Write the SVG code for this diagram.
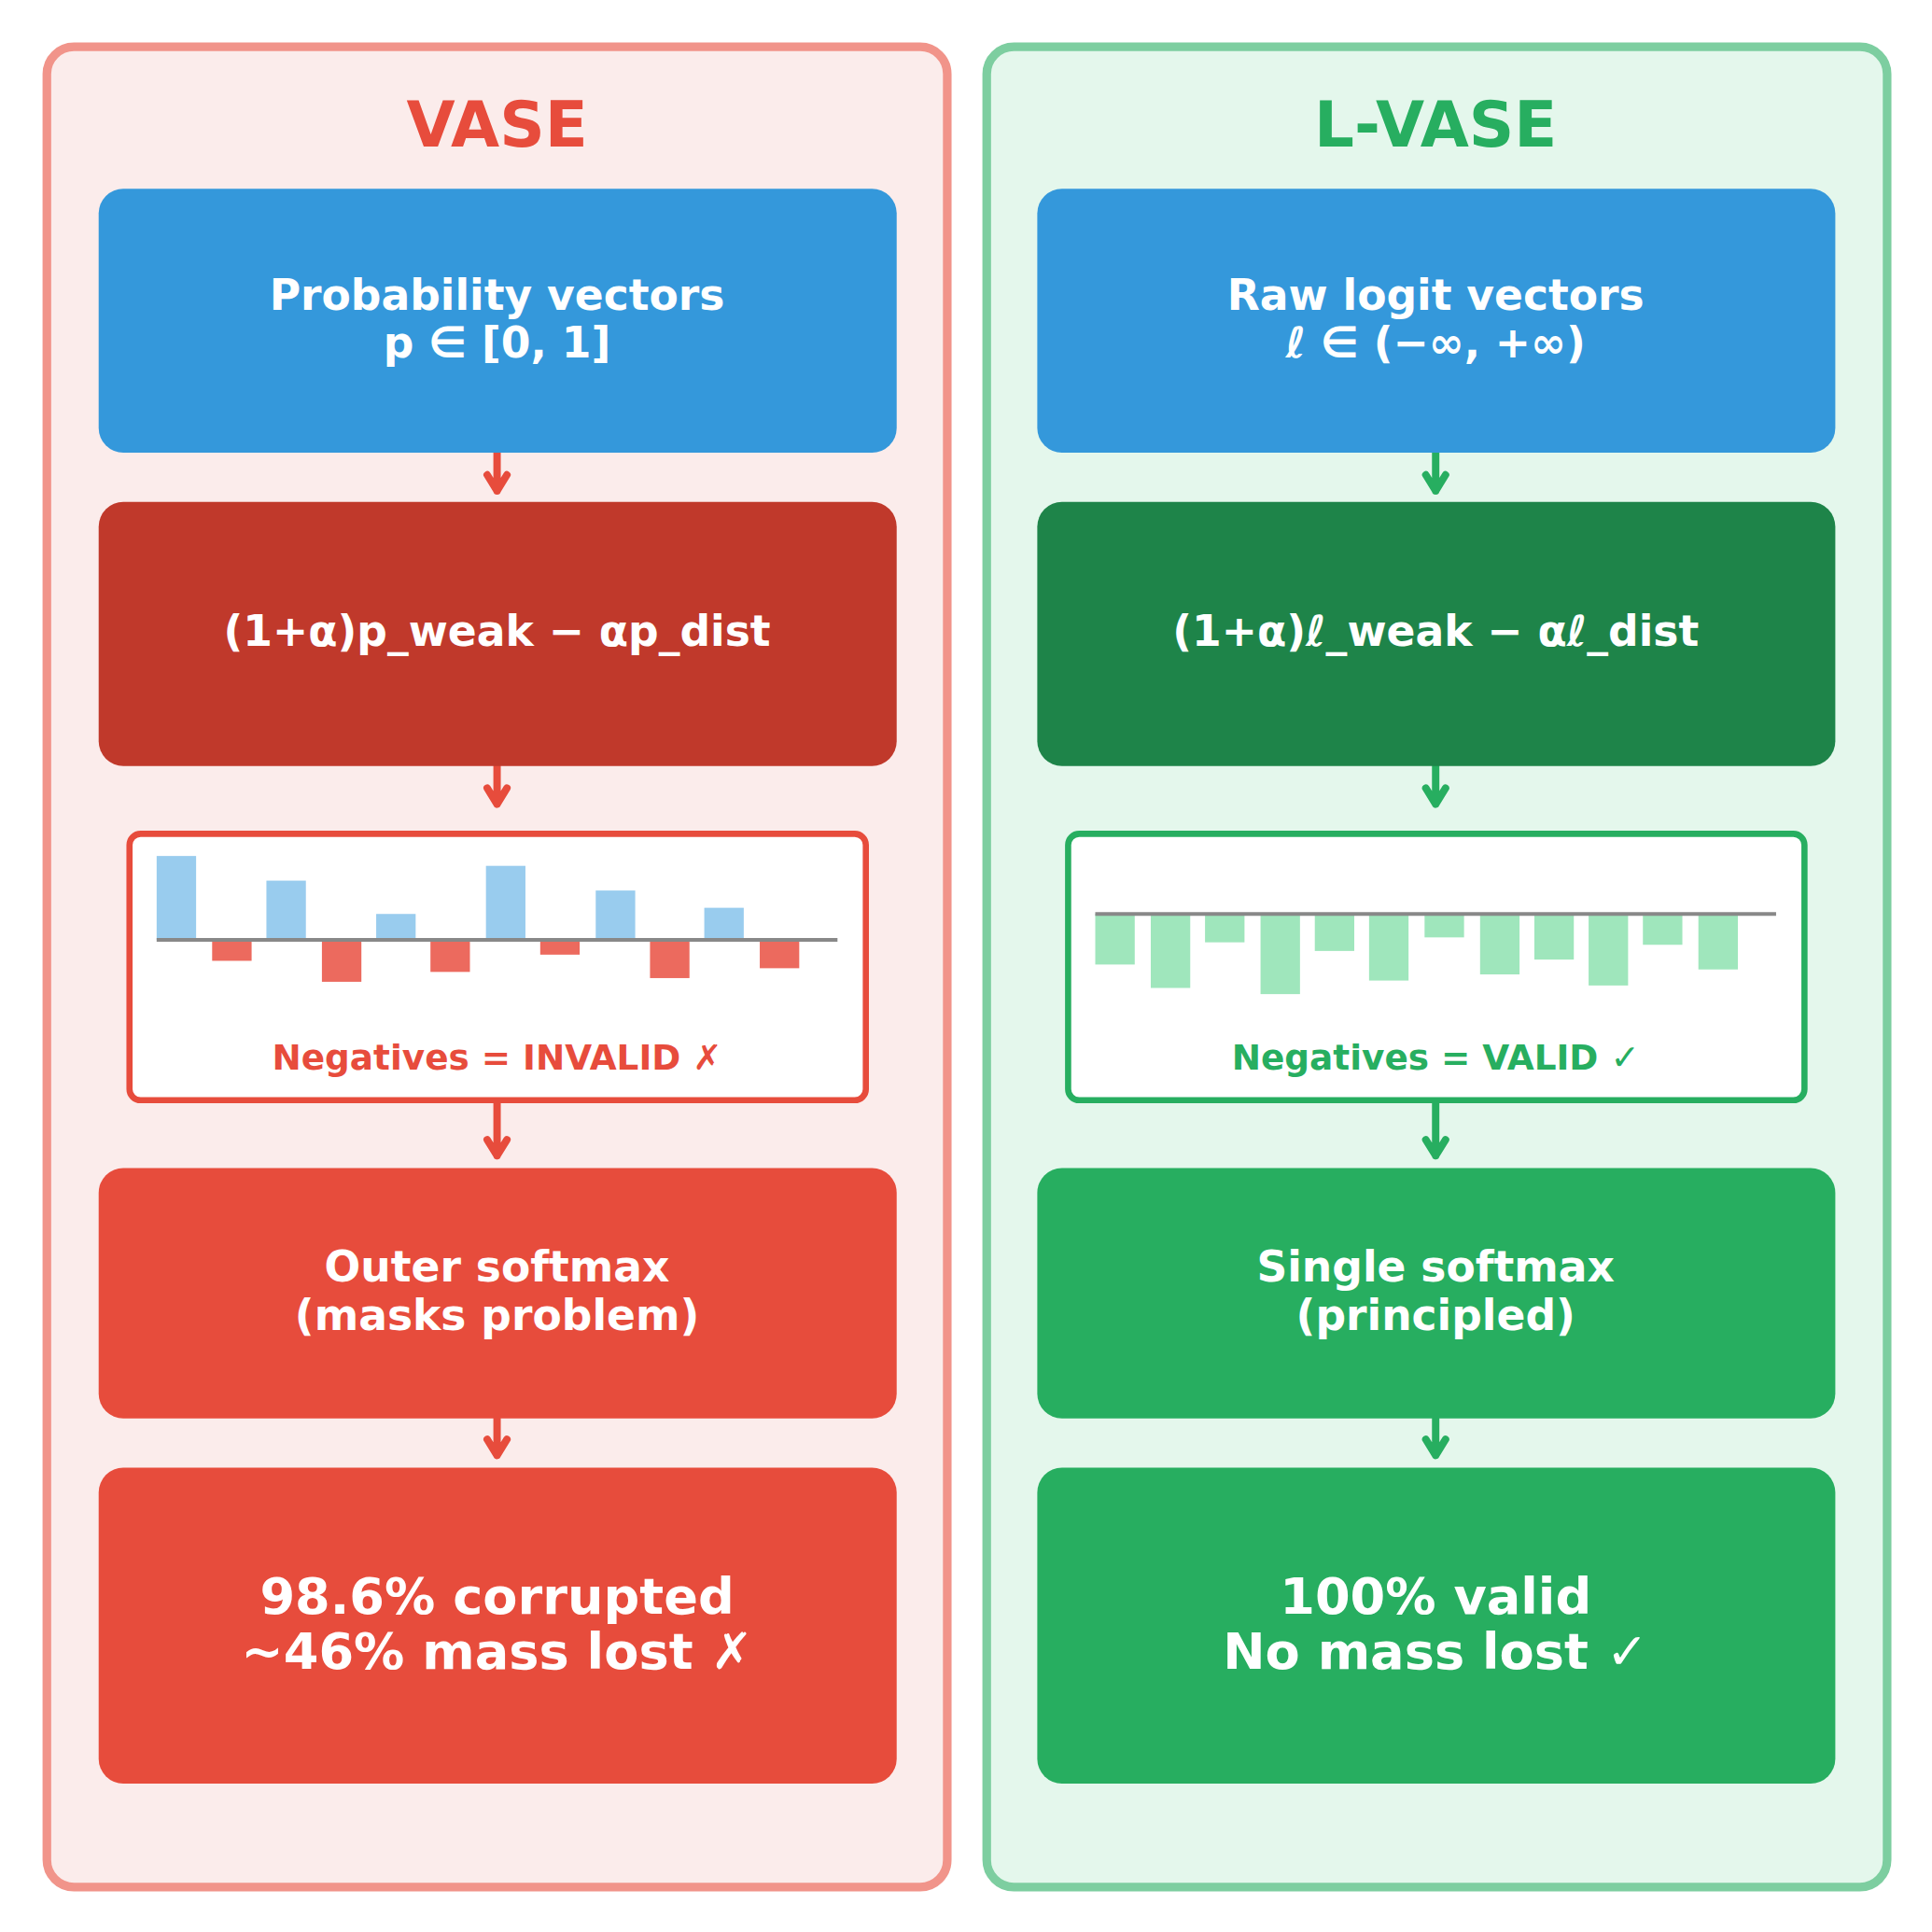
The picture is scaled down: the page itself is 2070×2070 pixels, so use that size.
<svg xmlns="http://www.w3.org/2000/svg" width="2070" height="2070" viewBox="0 0 2070 2070">
<defs>
<style>
text{font-family:"DejaVu Sans","Liberation Sans",sans-serif;font-weight:bold;text-anchor:middle}
.w{fill:#fff}
.t{font-size:34.5px}
.big{font-size:41px}
.lbl{font-size:28.3px}
.ttl{font-size:51px}
.ar{stroke-width:6;fill:none;stroke-linecap:round;stroke-linejoin:round}
</style>
</defs>
<rect width="2070" height="2070" fill="#fff"/>
<g transform="scale(1.3215)">
<g id="panel-vase">
<rect x="38" y="38" width="730" height="1492" rx="22" fill="#FBECEB" stroke="#F1948A" stroke-width="7"/>
<text x="403" y="119" class="ttl" fill="#E74C3C">VASE</text>
</g>
<g id="panel-lvase">
<rect x="800" y="38" width="730" height="1492" rx="22" fill="#E4F7EC" stroke="#7DCEA0" stroke-width="7"/>
<text x="1164" y="119" class="ttl" fill="#27AE60">L-VASE</text>
</g>
<g id="connectors">
<g stroke="#E74C3C" class="ar">
<path d="M403 345V398M395 385l8 13 8-13"/>
<path d="M403 599V652M395 639l8 13 8-13"/>
<path d="M403 884V937M395 924l8 13 8-13"/>
<path d="M403 1150V1180M395 1167l8 13 8-13"/>
</g>
<g stroke="#27AE60" class="ar">
<path d="M1164 345V398M1156 385l8 13 8-13"/>
<path d="M1164 599V652M1156 639l8 13 8-13"/>
<path d="M1164 884V937M1156 924l8 13 8-13"/>
<path d="M1164 1150V1180M1156 1167l8 13 8-13"/>
</g>
</g>
<g id="l1"><rect x="80" y="153" width="647" height="214" rx="20" fill="#3498DB"/>
<text class="t w" x="403" y="251">Probability vectors</text><text class="t w" x="403" y="290">p ∈ [0, 1]</text></g>
<g id="l2"><rect x="80" y="407" width="647" height="214" rx="20" fill="#C0392B"/>
<text class="t w" x="403" y="524">(1+α)p_weak − αp_dist</text></g>
<g id="l3"><rect x="105" y="676" width="597" height="216" rx="9" fill="#fff" stroke="#E74C3C" stroke-width="5"/>
<g fill="#99CCEE"><rect x="127" y="694" width="32" height="68"/><rect x="216" y="714" width="32" height="48"/><rect x="305" y="741" width="32" height="21"/><rect x="394" y="702" width="32" height="60"/><rect x="483" y="722" width="32" height="40"/><rect x="571" y="736" width="32" height="26"/></g>
<g fill="#EC6A5E"><rect x="172" y="762" width="32" height="17"/><rect x="261" y="762" width="32" height="34"/><rect x="349" y="762" width="32" height="26"/><rect x="438" y="762" width="32" height="12"/><rect x="527" y="762" width="32" height="31"/><rect x="616" y="762" width="32" height="23"/></g>
<line x1="127" y1="762" x2="679" y2="762" stroke="#888" stroke-width="3"/>
<text class="lbl" x="403" y="867" fill="#E74C3C">Negatives = INVALID ✗</text></g>
<g id="l4"><rect x="80" y="947" width="647" height="203" rx="20" fill="#E74C3C"/>
<text class="t w" x="403" y="1039">Outer softmax</text><text class="t w" x="403" y="1078">(masks problem)</text></g>
<g id="l5"><rect x="80" y="1190" width="647" height="256" rx="20" fill="#E74C3C"/>
<text class="big w" x="403" y="1308">98.6% corrupted</text><text class="big w" x="403" y="1353">~46% mass lost ✗</text></g>

<g id="r1"><rect x="841" y="153" width="647" height="214" rx="20" fill="#3498DB"/>
<text class="t w" x="1164" y="251">Raw logit vectors</text><text class="t w" x="1164" y="290">ℓ ∈ (−∞, +∞)</text></g>
<g id="r2"><rect x="841" y="407" width="647" height="214" rx="20" fill="#1E8449"/>
<text class="t w" x="1164" y="524">(1+α)ℓ_weak − αℓ_dist</text></g>
<g id="r3"><rect x="866" y="676" width="597" height="216" rx="9" fill="#fff" stroke="#27AE60" stroke-width="5"/>
<g fill="#9FE6BC"><rect x="888" y="741" width="32" height="41"/><rect x="933" y="741" width="32" height="60"/><rect x="977" y="741" width="32" height="23"/><rect x="1022" y="741" width="32" height="65"/><rect x="1066" y="741" width="32" height="30"/><rect x="1110" y="741" width="32" height="54"/><rect x="1155" y="741" width="32" height="19"/><rect x="1200" y="741" width="32" height="49"/><rect x="1244" y="741" width="32" height="37"/><rect x="1288" y="741" width="32" height="58"/><rect x="1332" y="741" width="32" height="25"/><rect x="1377" y="741" width="32" height="45"/></g>
<line x1="888" y1="741" x2="1440" y2="741" stroke="#888" stroke-width="3"/>
<text class="lbl" x="1164" y="867" fill="#27AE60">Negatives = VALID ✓</text></g>
<g id="r4"><rect x="841" y="947" width="647" height="203" rx="20" fill="#27AE60"/>
<text class="t w" x="1164" y="1039">Single softmax</text><text class="t w" x="1164" y="1078">(principled)</text></g>
<g id="r5"><rect x="841" y="1190" width="647" height="256" rx="20" fill="#27AE60"/>
<text class="big w" x="1164" y="1308">100% valid</text><text class="big w" x="1164" y="1353">No mass lost ✓</text></g>
</g>
</svg>
